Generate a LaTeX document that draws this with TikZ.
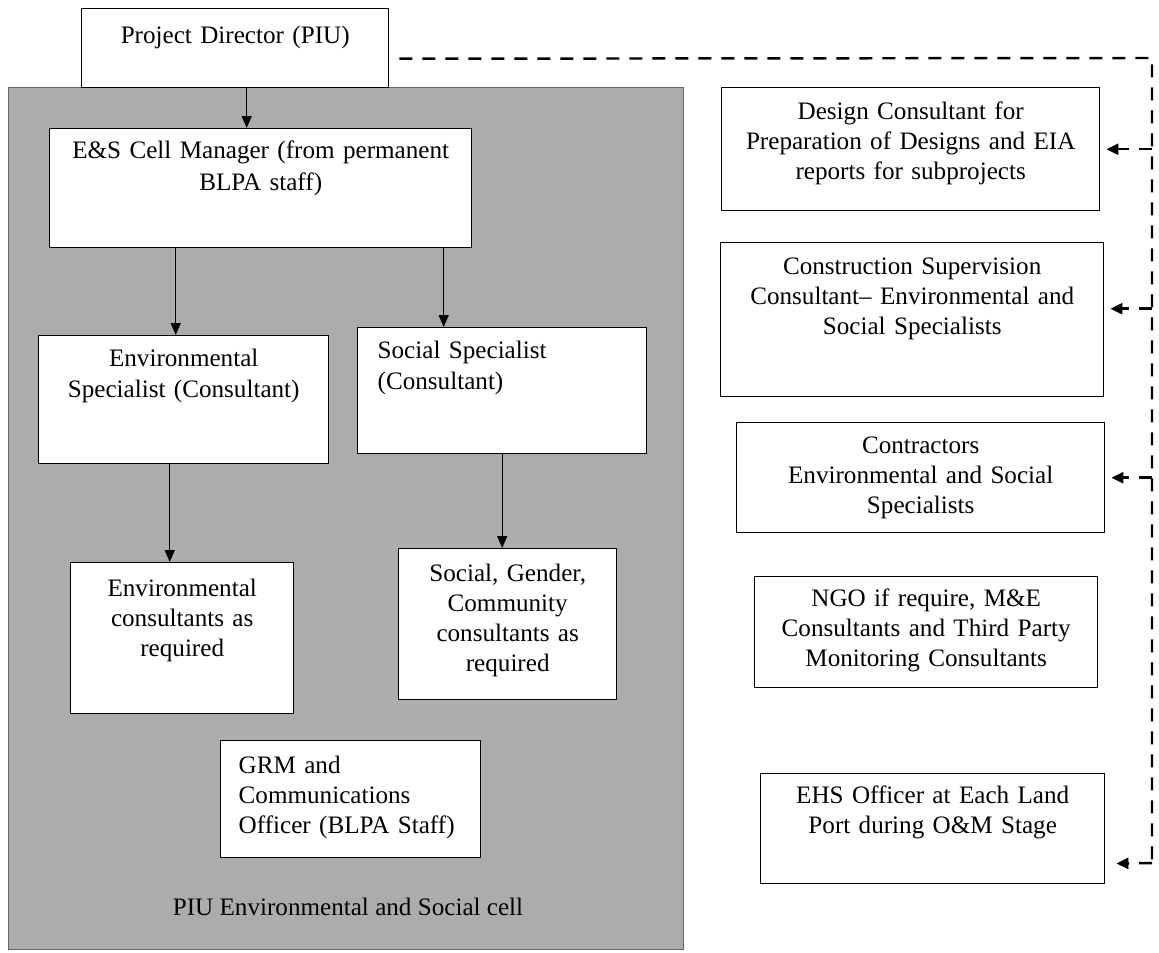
\documentclass[tikz,border=0pt]{standalone}
\usepackage{fontspec}
\setmainfont{Liberation Serif}
\usetikzlibrary{arrows.meta}
\setlength{\parindent}{0pt}
\definecolor{cCell}{RGB}{172,172,172}

\begin{document}
\begin{tikzpicture}[
  x=0.2mm, y=-0.2mm,
  font=\fontsize{14.3}{17}\selectfont,
  cell/.style   = {draw=black!60, line width=0.6pt, fill=cCell,
                   anchor=north west, inner sep=0pt},
  box/.style    = {draw, line width=0.8pt, fill=white, anchor=north west,
                   align=center, inner xsep=2mm, inner ysep=0pt},
  lbox/.style   = {box, align=left},
  flow/.style   = {-{Triangle[length=2.4mm, width=2mm]}, line width=0.8pt},
  link/.style   = {line width=1.4pt, dash pattern=on 2.6mm off 2mm},
  linkto/.style = {link, -{Triangle[length=2.4mm, width=2.2mm]}, shorten >=1.2mm}
]
\useasboundingbox (0,0) rectangle (1159,952);

% ------------------------------------------------------------ the E&S cell --
\node[cell, minimum width=135mm, minimum height=172.4mm] (cell) at (8,87) {};
\node (cellname) at (348,907) {PIU Environmental and Social cell};

% ------------------------------------------------------------ left column --
\node[box, text width=57.4mm, text height=7mm, text depth=8.8mm]    (pd)      at (81,8)
  {Project Director (PIU)};
\node[box, text width=80.4mm, text height=6mm, text depth=17.8mm]   (mgr)     at (49,128)
  {E\&S Cell Manager (from permanent\\[1.2pt] BLPA staff)};
\node[box, text width=54mm, text height=6.2mm, text depth=19.4mm]   (envspec) at (38,335)
  {Environmental\\[0.7pt] Specialist (Consultant)};
\node[lbox, inner xsep=4mm, text width=49.8mm, text height=6.2mm, text depth=19mm] (socspec) at (357,327)
  {Social Specialist\\[0.7pt] (Consultant)};
\node[box, text width=40.6mm, text height=6.8mm, text depth=23.4mm] (envcons) at (70,562)
  {Environmental\\ consultants as\\ required};
\node[box, text width=39.6mm, text height=6.6mm, text depth=23.6mm] (soccons) at (398,548)
  {Social, Gender,\\ Community\\ consultants as\\ required};
\node[lbox, inner xsep=3.6mm, text width=44.8mm, text height=6.6mm, text depth=16.8mm] (grm) at (220,740)
  {GRM and\\ Communications\\ Officer (BLPA Staff)};

% ----------------------------------------------------------- right column --
\node[box, text width=71.6mm, text height=6.4mm, text depth=18.2mm] (design) at (721,87)
  {Design Consultant for\\ Preparation of Designs and EIA\\ reports for subprojects};
\node[box, text width=72.6mm, text height=6.4mm, text depth=24.4mm] (constr) at (720,242)
  {Construction Supervision\\ Consultant-- Environmental and\\ Social Specialists};
\node[box, text width=69.6mm, text height=6.2mm, text depth=15.8mm] (contr)  at (736,422)
  {Contractors\\ Environmental and Social\\ Specialists};
\node[box, text width=64.6mm, text height=6mm, text depth=16.2mm]   (ngo)    at (754,576)
  {NGO if require, M\&E\\ Consultants and Third Party\\ Monitoring Consultants};
\node[box, text width=64.8mm, text height=6mm, text depth=16mm]     (ehs)    at (760,773)
  {EHS Officer at Each Land\\ Port during O\&M Stage};

% ------------------------------------------------------------ solid arrows --
\draw[flow] ([xshift=2.3mm]pd.south)    -- ([xshift=2.3mm]pd.south |- mgr.north);
\draw[flow] ([xshift=-17mm]mgr.south)   -- ([xshift=-17mm]mgr.south |- envspec.north);
\draw[flow] ([xshift=36.6mm]mgr.south)  -- ([xshift=36.6mm]mgr.south |- socspec.north);
\draw[flow] ([xshift=-2.8mm]envspec.south) -- ([xshift=-2.8mm]envspec.south |- envcons.north);
\draw[flow] (socspec.south) -- (socspec.south |- soccons.north);

% ---------------------------------------------------------- dashed links --
\coordinate (bend) at (1152,58);
\coordinate (foot) at (1152,863);
\coordinate (cs)   at ([yshift=2.2mm]constr.east);
\coordinate (eh)   at ([yshift=-7mm]ehs.east);
\draw[link] ([xshift=2mm, yshift=-2.1mm]pd.east) -- (bend) -- (foot);
\draw[linkto] (bend |- design.east) -- (design.east);
\draw[linkto] (bend |- cs) -- (cs);
\draw[linkto] (bend |- contr.east) -- (contr.east);
\draw[linkto, shorten >=2.2mm] (foot) -- (eh);

\end{tikzpicture}
\end{document}
